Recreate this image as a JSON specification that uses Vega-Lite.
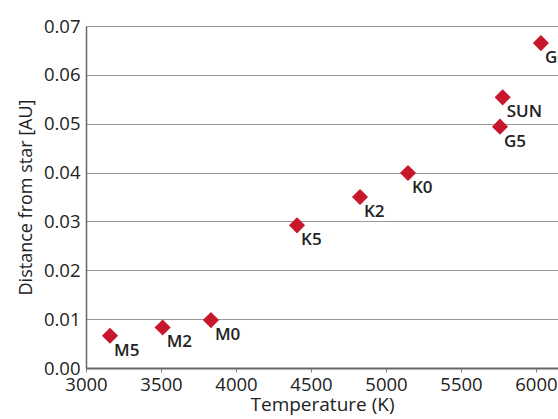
{
  "$schema": "https://vega.github.io/schema/vega-lite/v6.json",
  "width": 472,
  "height": 342,
  "autosize": {"type": "none"},
  "padding": {"left": 86, "top": 26, "right": 0, "bottom": 51},
  "background": "white",
  "config": {
    "view": {"stroke": null},
    "font": "Open Sans",
    "axis": {"labelFont": "Open Sans", "titleFont": "Open Sans", "labelColor": "#222", "titleColor": "#222", "titleFontWeight": "normal"}
  },
  "data": {
    "values": [
      {"temp": 3160, "dist": 0.0066, "type": "M5"},
      {"temp": 3511, "dist": 0.0083, "type": "M2"},
      {"temp": 3833, "dist": 0.0098, "type": "M0"},
      {"temp": 4407, "dist": 0.0292, "type": "K5"},
      {"temp": 4827, "dist": 0.0350, "type": "K2"},
      {"temp": 5147, "dist": 0.0399, "type": "K0"},
      {"temp": 5760, "dist": 0.0494, "type": "G5"},
      {"temp": 5778, "dist": 0.0554, "type": "SUN"},
      {"temp": 6033, "dist": 0.0665, "type": "G0"}
    ]
  },
  "encoding": {
    "x": {
      "field": "temp", "type": "quantitative",
      "scale": {"domain": [3000, 6147], "nice": false, "zero": false},
      "axis": {
        "title": "Temperature (K)", "values": [3000, 3500, 4000, 4500, 5000, 5500, 6000],
        "format": "d", "grid": false, "labelFontSize": 18.5, "titleFontSize": 19,
        "labelPadding": 3, "tickSize": 4, "tickColor": "#888", "domainColor": "#666", "domainWidth": 2,
        "titlePadding": 2, "labelFlush": false
      }
    },
    "y": {
      "field": "dist", "type": "quantitative",
      "scale": {"domain": [0, 0.07], "nice": false},
      "axis": {
        "title": "Distance from star [AU]", "values": [0, 0.01, 0.02, 0.03, 0.04, 0.05, 0.06, 0.07],
        "format": ".2f", "grid": true, "gridColor": "#999", "gridWidth": 1.2,
        "labelFontSize": 18.5, "titleFontSize": 18, "labelPadding": 6, "tickSize": 0,
        "domainColor": "#666", "domainWidth": 1.5, "titlePadding": 8, "labelFlush": false
      }
    }
  },
  "layer": [
    {
      "mark": {"type": "point", "shape": "diamond", "filled": true, "size": 260, "color": "#c8172c", "opacity": 1}
    },
    {
      "mark": {"type": "text", "align": "left", "baseline": "middle", "dx": 4, "dy": 15, "fontSize": 17, "fontWeight": 600, "color": "#222", "font": "Open Sans"},
      "encoding": {"text": {"field": "type"}}
    }
  ]
}
